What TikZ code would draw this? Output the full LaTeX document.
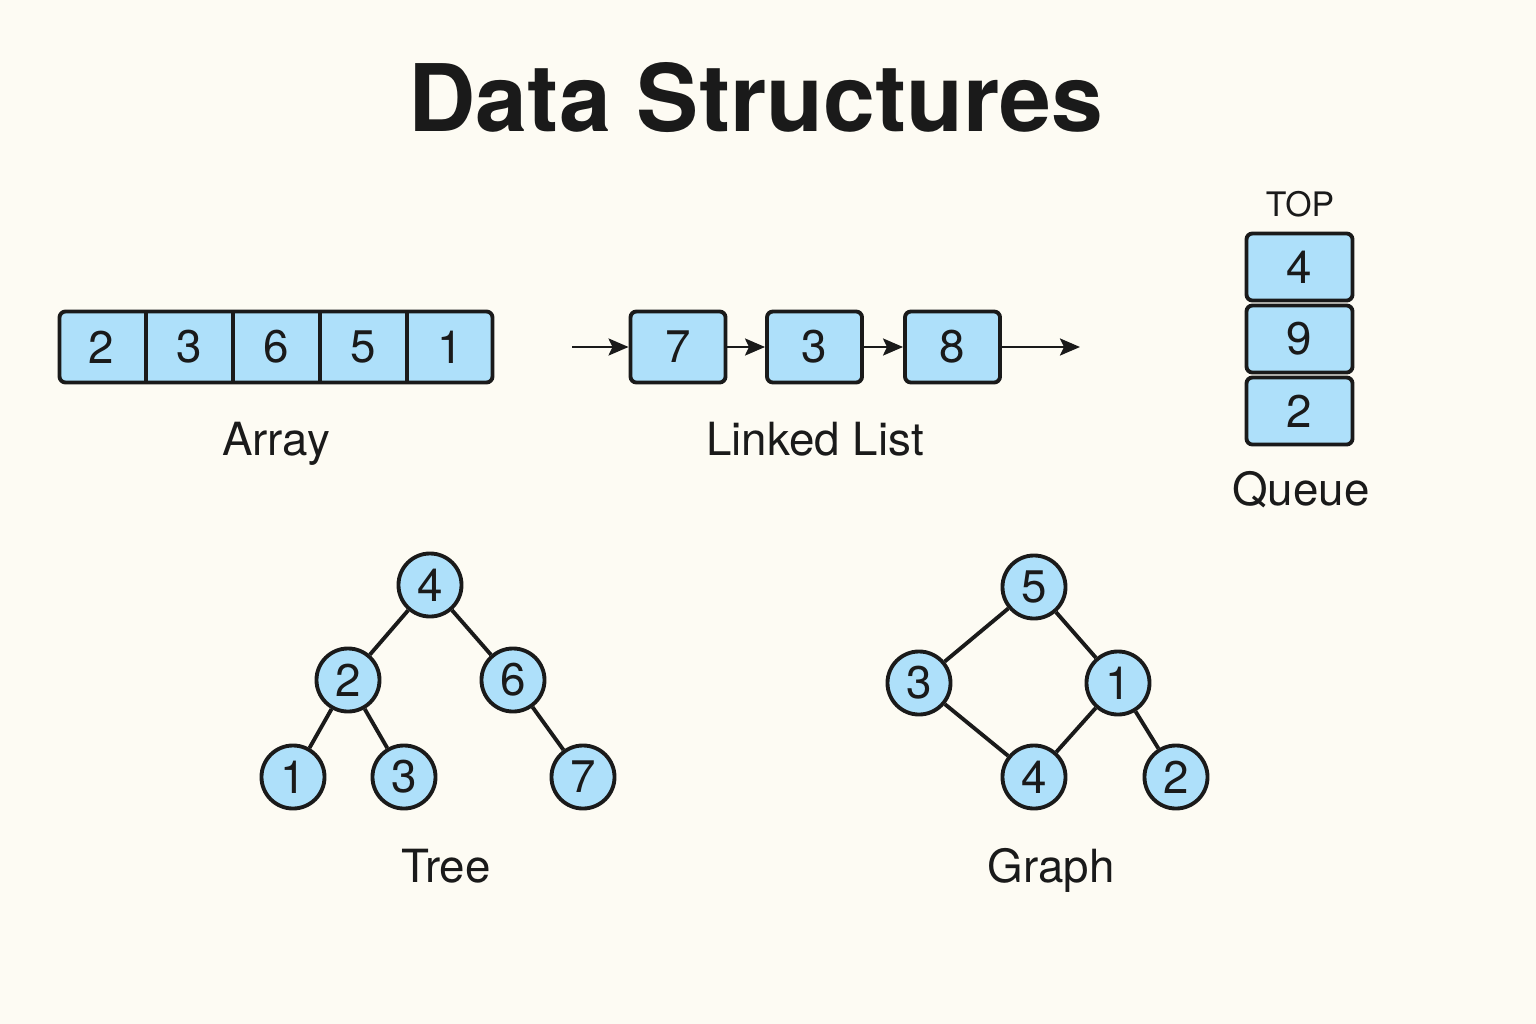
\documentclass[tikz,border=0pt]{standalone}
\usepackage{fontspec}
\setmainfont{TeX Gyre Heros}
\usetikzlibrary{arrows.meta}
\definecolor{paper}{RGB}{253,251,243}
\definecolor{cellblue}{RGB}{174,224,250}
\definecolor{ink}{RGB}{26,26,26}

\begin{document}
\begin{tikzpicture}[x=0.01cm, y=-0.01cm, digit/.style={font=\fontsize{13}{15}\selectfont, text=ink, inner sep=0pt}, cellrow/.style={draw=ink, fill=cellblue, line width=1.1pt, rounded corners=0.06cm}, box/.style={digit, cellrow, minimum width=0.95cm, minimum height=0.71cm}, stackbox/.style={digit, cellrow, minimum width=1.06cm, minimum height=0.67cm}, vert/.style={digit, circle, draw=ink, fill=cellblue, line width=1.1pt, minimum size=0.63cm}, link/.style={-{Stealth[length=2mm, width=1.7mm, inset=0.4mm]}, line width=0.75pt, draw=ink}, branch/.style={line width=1.1pt, draw=ink}, caption/.style={font=\fontsize{13}{15}\selectfont, text=ink, anchor=base}]

\fill[paper] (0,0) rectangle (1536,1024);
\node[font=\bfseries\fontsize{26.5}{30}\selectfont, text=ink] (title) at (756,98) {Data Structures};

% array
\draw[cellrow] (59.5,311.5) rectangle (492.5,382.5);
\node[digit, minimum width=0.87cm, minimum height=0.71cm] (a1) at (101.6,347) {2};
\node[digit, minimum width=0.87cm, minimum height=0.71cm] (a2) at (188.8,347) {3};
\node[digit, minimum width=0.87cm, minimum height=0.71cm] (a3) at (276,347) {6};
\node[digit, minimum width=0.87cm, minimum height=0.71cm] (a4) at (363.2,347) {5};
\node[digit, minimum width=0.87cm, minimum height=0.71cm] (a5) at (450.4,347) {1};
\draw[branch] (a1.north east) -- (a1.south east);
\draw[branch] (a2.north east) -- (a2.south east);
\draw[branch] (a3.north east) -- (a3.south east);
\draw[branch] (a4.north east) -- (a4.south east);
\node[caption] (arraylbl) at (276,455) {Array};

% linked list
\node[box] (l1) at (678,347) {7};
\node[box] (l2) at (814.5,347) {3};
\node[box] (l3) at (952.5,347) {8};
\coordinate (head) at (572,347);
\coordinate (tail) at (1080,347);
\draw[link] (head) -- (l1);
\draw[link] (l1) -- (l2);
\draw[link] (l2) -- (l3);
\draw[link] (l3) -- (tail);
\node[caption] (listlbl) at (815,455) {Linked List};

% queue
\node[font=\fontsize{9.6}{11}\selectfont, text=ink, anchor=base] (top) at (1300,216) {TOP};
\node[stackbox] (q1) at (1299.5,267) {4};
\node[stackbox] (q2) at (1299.5,339) {9};
\node[stackbox] (q3) at (1299.5,411) {2};
\node[caption] (queuelbl) at (1301,505) {Queue};

% tree
\node[vert] (t4) at (430,585) {4};
\node[vert] (t2) at (348,680) {2};
\node[vert] (t6) at (513,680) {6};
\node[vert] (t1) at (293,777) {1};
\node[vert] (t3) at (404,777) {3};
\node[vert] (t7) at (583,777) {7};
\draw[branch] (t4) -- (t2);
\draw[branch] (t4) -- (t6);
\draw[branch] (t2) -- (t1);
\draw[branch] (t2) -- (t3);
\draw[branch] (t6) -- (t7);
\node[caption] (treelbl) at (446,882) {Tree};

% graph
\node[vert] (g5) at (1034,587) {5};
\node[vert] (g3) at (919,683) {3};
\node[vert] (g1) at (1118,683) {1};
\node[vert] (g4) at (1034,777) {4};
\node[vert] (g2) at (1176,777) {2};
\draw[branch] (g5) -- (g3);
\draw[branch] (g5) -- (g1);
\draw[branch] (g3) -- (g4);
\draw[branch] (g1) -- (g4);
\draw[branch] (g1) -- (g2);
\node[caption] (graphlbl) at (1051,882) {Graph};
\end{tikzpicture}
\end{document}
